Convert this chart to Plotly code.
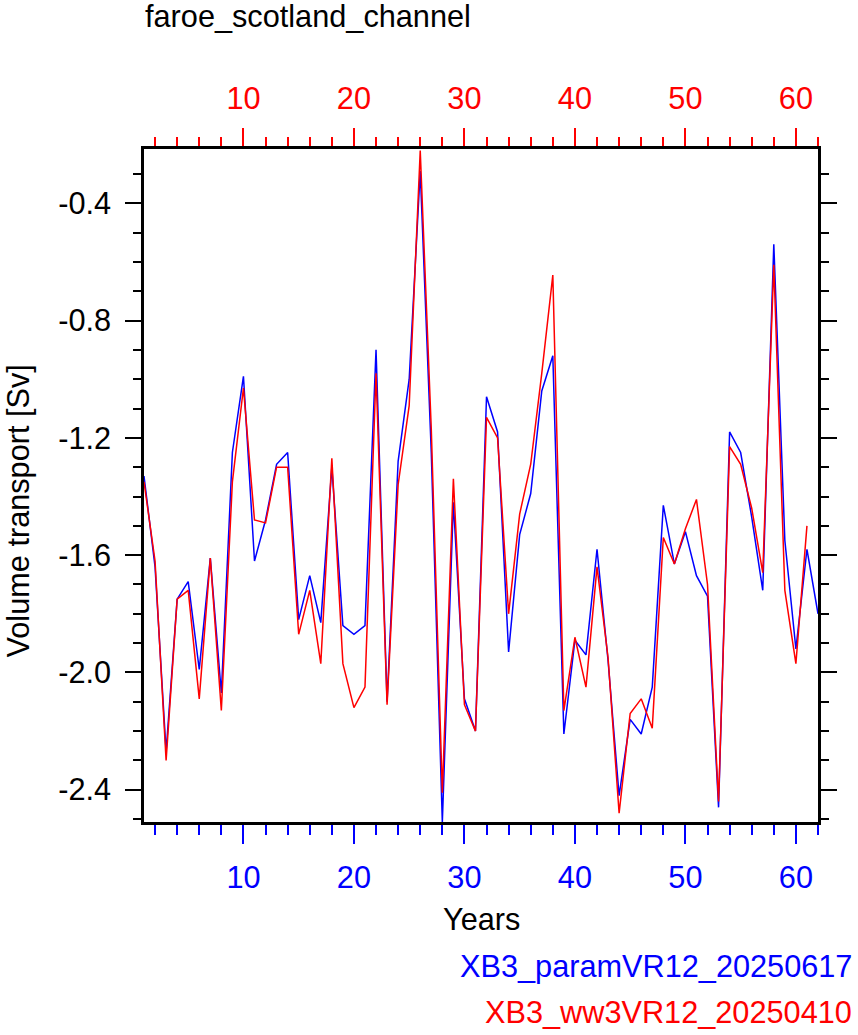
import plotly.graph_objects as go

years_blue = list(range(1, 63))
years_red = list(range(1, 62))

blue_vals = [-1.33, -1.64, -2.27, -1.75, -1.69, -1.99, -1.61, -2.07, -1.25, -0.99,
             -1.62, -1.48, -1.29, -1.25, -1.82, -1.67, -1.83, -1.30, -1.84, -1.87,
             -1.84, -0.90, -2.10, -1.28, -1.00, -0.29, -1.25, -2.51, -1.42, -2.09,
             -2.20, -1.06, -1.18, -1.93, -1.53, -1.39, -1.04, -0.92, -2.21, -1.89,
             -1.94, -1.58, -1.96, -2.42, -2.16, -2.21, -2.05, -1.43, -1.63, -1.52,
             -1.67, -1.74, -2.46, -1.18, -1.25, -1.47, -1.72, -0.54, -1.55, -1.92,
             -1.58, -1.80]

red_vals = [-1.35, -1.62, -2.30, -1.75, -1.72, -2.09, -1.61, -2.13, -1.35, -1.03,
            -1.48, -1.49, -1.30, -1.30, -1.87, -1.72, -1.97, -1.27, -1.97, -2.12,
            -2.05, -0.98, -2.11, -1.36, -1.09, -0.22, -1.17, -2.41, -1.34, -2.11,
            -2.20, -1.13, -1.20, -1.80, -1.46, -1.29, -0.98, -0.645, -2.13, -1.88,
            -2.05, -1.64, -1.95, -2.48, -2.14, -2.09, -2.19, -1.54, -1.63, -1.51,
            -1.41, -1.70, -2.44, -1.23, -1.29, -1.44, -1.66, -0.61, -1.72, -1.97,
            -1.50]

x_tickvals = [10, 20, 30, 40, 50, 60]
x_ticktext = ["10", "20", "30", "40", "50", "60"]
y_tickvals = [-0.4, -0.8, -1.2, -1.6, -2.0, -2.4]
y_ticktext = ["-0.4", "-0.8", "-1.2", "-1.6", "-2.0", "-2.4"]

blue_name = "XB3_paramVR12_20250617"
red_name = "XB3_ww3VR12_20250410"
title_text = "faroe_scotland_channel"
x_title = "Years"
y_title = "Volume transport [Sv]"

FONT = "Liberation Sans, Arial, Helvetica, sans-serif"
FS = 30.7

fig = go.Figure()
fig.add_trace(go.Scatter(x=years_blue, y=blue_vals, mode="lines",
                         line=dict(color="#0000ff", width=1.5),
                         xaxis="x", yaxis="y", showlegend=False))
fig.add_trace(go.Scatter(x=years_red, y=red_vals, mode="lines",
                         line=dict(color="#ff0000", width=1.5),
                         xaxis="x2", yaxis="y", showlegend=False))

xrange = [1, 62]
yrange = [-2.51, -0.215]

fig.update_layout(
    width=858, height=1035,
    margin=dict(l=144, r=40, t=149, b=213, pad=0),
    paper_bgcolor="white", plot_bgcolor="white",
    font=dict(family=FONT, size=FS, color="black"),
    xaxis=dict(range=xrange, tickmode="array", tickvals=x_tickvals, ticktext=x_ticktext,
               ticks="outside", ticklen=19,
               tickwidth=2, tickcolor="#0000ff",
               tickfont=dict(color="#0000ff", size=FS, family=FONT),
               ticklabelstandoff=7,
               minor=dict(dtick=2, tick0=0, ticks="outside", ticklen=10,
                          tickwidth=1.5, tickcolor="#0000ff", showgrid=False),
               showline=True, linecolor="black", linewidth=2.5, mirror=False,
               showgrid=False, zeroline=False),
    xaxis2=dict(range=xrange, overlaying="x", side="top", tickmode="array",
                tickvals=x_tickvals, ticktext=x_ticktext,
                ticks="outside", ticklen=18, tickwidth=2, tickcolor="#ff0000",
                tickfont=dict(color="#ff0000", size=FS, family=FONT),
                ticklabelstandoff=7,
                minor=dict(dtick=2, tick0=0, ticks="outside", ticklen=9,
                           tickwidth=1.5, tickcolor="#ff0000", showgrid=False),
                showline=True, linecolor="black", linewidth=2.5,
                showgrid=False, zeroline=False),
    yaxis=dict(range=yrange, tickmode="array", tickvals=y_tickvals, ticktext=y_ticktext,
               ticks="outside", ticklen=16, tickwidth=2, tickcolor="black",
               tickfont=dict(color="black", size=FS, family=FONT),
               ticklabelstandoff=8,
               minor=dict(dtick=0.1, tick0=0, ticks="outside", ticklen=8,
                          tickwidth=1.5, tickcolor="black", showgrid=False),
               showline=True, linecolor="black", linewidth=2.5, mirror="ticks",
               showgrid=False, zeroline=False),
    annotations=[
        dict(text=title_text, xref="paper", yref="paper", x=0.0, y=1.0,
             xanchor="left", yanchor="middle", yshift=133, xshift=-1,
             showarrow=False, font=dict(size=FS, color="black", family=FONT)),
        dict(text=x_title, xref="paper", yref="paper", x=0.5, y=0.0,
             xanchor="center", yanchor="middle", yshift=-97, xshift=0,
             showarrow=False, font=dict(size=FS, color="black", family=FONT)),
        dict(text=y_title, xref="paper", yref="paper", x=0.0, y=0.5,
             xanchor="center", yanchor="middle", xshift=-126, yshift=-26,
             textangle=-90,
             showarrow=False, font=dict(size=FS, color="black", family=FONT)),
        dict(text=blue_name, xref="paper", yref="paper", x=1.0, y=0.0,
             xanchor="right", yanchor="middle", xshift=36, yshift=-144,
             showarrow=False, font=dict(size=FS, color="#0000ff", family=FONT)),
        dict(text=red_name, xref="paper", yref="paper", x=1.0, y=0.0,
             xanchor="right", yanchor="middle", xshift=36, yshift=-190,
             showarrow=False, font=dict(size=FS, color="#ff0000", family=FONT)),
    ],
)

fig.write_html("out.html")
